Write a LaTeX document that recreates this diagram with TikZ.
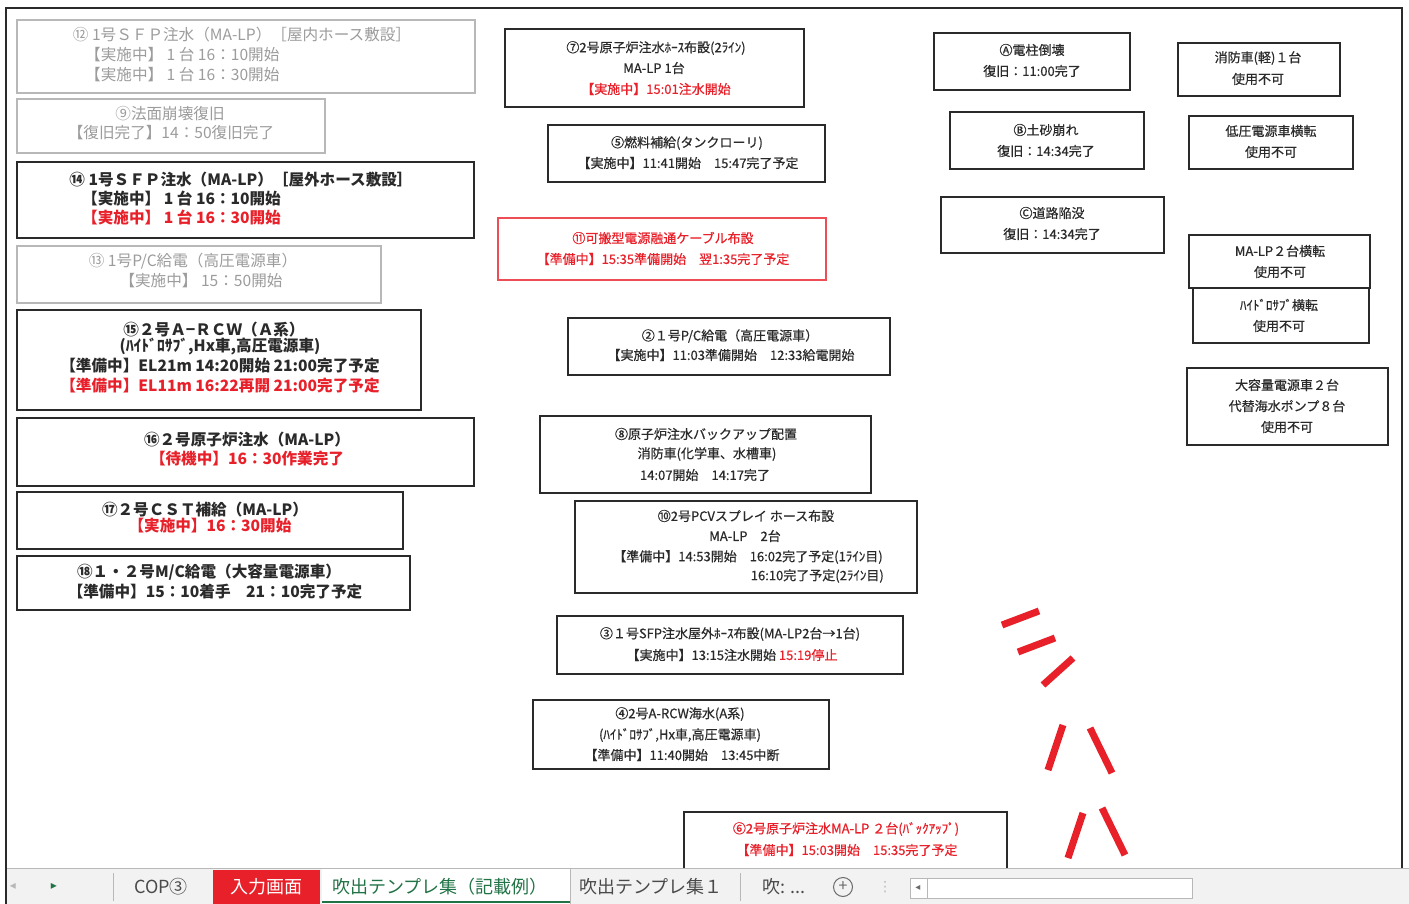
\documentclass[tikz,border=0pt]{standalone}
\usepackage{fontspec}
\setmainfont{Noto Sans CJK JP}
\newfontfamily\jpmid[FakeBold=0.5]{Noto Sans CJK JP}
\newfontfamily\symf{DejaVu Sans}
\definecolor{ink}{HTML}{2A2A2A}
\definecolor{gink}{HTML}{9C9C9C}
\definecolor{gline}{HTML}{B8B8B8}
\definecolor{rink}{HTML}{E8202A}
\definecolor{tabbg}{HTML}{F2F2F2}
\definecolor{xlgreen}{HTML}{217346}
\newcommand{\bx}[6]{\node[#6, anchor=north west, minimum width={(#4)-(#2)}, minimum height={(#5)-(#3)}] (#1) at (#2,#3) {};}
\newcommand{\rd}[1]{\textcolor{rink}{#1}}
\begin{document}
\begin{tikzpicture}[x=1pt,y=-1pt,
  box/.style={draw=ink, line width=1.8pt, inner sep=0pt, outer sep=0pt},
  gbox/.style={draw=gline, line width=1.3pt, inner sep=0pt, outer sep=0pt},
  rbox/.style={draw=rink!80, line width=1.8pt, inner sep=0pt, outer sep=0pt},
  L/.style={font=\fontsize{15.6}{15.6}\selectfont\bfseries, text=ink, inner sep=0pt},
  LG/.style={font=\fontsize{15.6}{15.6}\selectfont, text=gink, inner sep=0pt},
  M/.style={font=\jpmid\fontsize{13}{13}\selectfont, text=ink, inner sep=0pt},
  tab/.style={font=\fontsize{18}{18}\selectfont, text=ink!85, inner sep=0pt},
  redmark/.style={draw=rink, line width=7pt}]
\useasboundingbox (0,0) rectangle (1409,904);
\fill[white] (0,0) rectangle (1409,904);
% sheet frame
\draw[ink, line width=2pt] (6,904) -- (6,8) -- (1402,8) -- (1402,868);

% ---------- left column ----------
\bx{b1}{17}{20}{475}{93}{gbox}
\node[LG] (t1a) at (242,35) {⑫ 1号ＳＦＰ注水（MA-LP）［屋内ホース敷設］};
\node[LG, anchor=west] (t1b) at (85,55) {【実施中】 1 台 16：10開始};
\node[LG, anchor=west] (t1c) at (85,75) {【実施中】 1 台 16：30開始};

\bx{b2}{17}{99}{325}{153}{gbox}
\node[LG] (t2a) at (170,114) {⑨法面崩壊復旧};
\node[LG] (t2b) at (171,133) {【復旧完了】14：50復旧完了};

\bx{b3}{17}{162}{474}{238}{box}
\node[L] (t3a) at (241,180) {⑭ 1号ＳＦＰ注水（MA-LP）［屋外ホース敷設］};
\node[L, anchor=west] (t3b) at (82,199) {【実施中】 1 台 16：10開始};
\node[L, anchor=west, text=rink] (t3c) at (82,218) {【実施中】 1 台 16：30開始};

\bx{b4}{17}{246}{381}{303}{gbox}
\node[LG] (t4a) at (193,261) {⑬ 1号P/C給電（高圧電源車）};
\node[LG] (t4b) at (201,281) {【実施中】 15：50開始};

\bx{b5}{17}{310}{421}{410}{box}
\node[L] (t5a) at (214,330) {⑮２号Ａ−ＲＣＷ（Ａ系）};
\node[L] (t5b) at (220,347) {(ﾊｲﾄﾞﾛｻﾌﾞ,Hx車,高圧電源車)};
\node[L] (t5c) at (220,366) {【準備中】EL21m 14:20開始 21:00完了予定};
\node[L, text=rink] (t5d) at (220,386) {【準備中】EL11m 16:22再開 21:00完了予定};

\bx{b6}{17}{418}{474}{486}{box}
\node[L] (t6a) at (247,440) {⑯２号原子炉注水（MA-LP）};
\node[L, text=rink] (t6b) at (247,459) {【待機中】16：30作業完了};

\bx{b7}{17}{492}{403}{549}{box}
\node[L] (t7a) at (205,510) {⑰２号ＣＳＴ補給（MA-LP）};
\node[L, text=rink] (t7b) at (210,526) {【実施中】16：30開始};

\bx{b8}{17}{556}{410}{610}{box}
\node[L] (t8a) at (209,572) {⑱１・２号M/C給電（大容量電源車）};
\node[L] (t8b) at (215,592) {【準備中】15：10着手　21：10完了予定};

% ---------- middle column ----------
\bx{b9}{505}{29}{804}{107}{box}
\node[M] (t9a) at (656,48) {⑦2号原子炉注水ﾎｰｽ布設(2ﾗｲﾝ)};
\node[M] (t9b) at (654,68) {MA-LP 1台};
\node[M, text=rink] (t9c) at (656,89) {【実施中】15:01注水開始};

\bx{b10}{548}{125}{825}{182}{box}
\node[M] (t10a) at (687,143) {⑤燃料補給(タンクローリ)};
\node[M] (t10b) at (688,163) {【実施中】11:41開始　15:47完了予定};

\bx{b11}{498}{218}{826}{280}{rbox}
\node[M, text=rink] (t11a) at (663,238) {⑪可搬型電源融通ケーブル布設};
\node[M, text=rink] (t11b) at (663,259) {【準備中】15:35準備開始　翌1:35完了予定};

\bx{b12}{568}{318}{890}{375}{box}
\node[M] (t12a) at (730,336) {②１号P/C給電（高圧電源車）};
\node[M] (t12b) at (731,355) {【実施中】11:03準備開始　12:33給電開始};

\bx{b13}{540}{416}{871}{493}{box}
\node[M] (t13a) at (706,434) {⑧原子炉注水バックアップ配置};
\node[M] (t13b) at (707,454) {消防車(化学車、水槽車)};
\node[M] (t13c) at (705,475) {14:07開始　14:17完了};

\bx{b14}{575}{501}{917}{593}{box}
\node[M] (t14a) at (746,516) {⑩2号PCVスプレイ ホース布設};
\node[M] (t14b) at (745,536) {MA-LP　2台};
\node[M] (t14c) at (748,557) {【準備中】14:53開始　16:02完了予定(1ﾗｲﾝ目)};
\node[M, anchor=east] (t14d) at (884,576) {16:10完了予定(2ﾗｲﾝ目)};

\bx{b15}{557}{616}{903}{674}{box}
\node[M] (t15a) at (730,634) {③１号SFP注水屋外ﾎｰｽ布設(MA-LP2台→1台)};
\node[M] (t15b) at (732,655) {【実施中】13:15注水開始 \rd{15:19停止}};

\bx{b16}{533}{700}{829}{769}{box}
\node[M] (t16a) at (680,714) {④2号A-RCW海水(A系)};
\node[M] (t16b) at (680,735) {(ﾊｲﾄﾞﾛｻﾌﾞ,Hx車,高圧電源車)};
\node[M] (t16c) at (682,755) {【準備中】11:40開始　13:45中断};

\bx{b17}{684}{812}{1007}{880}{box}
\node[M, text=rink] (t17a) at (846,829) {⑥2号原子炉注水MA-LP ２台(ﾊﾞｯｸｱｯﾌﾟ)};
\node[M, text=rink] (t17b) at (847,850) {【準備中】15:03開始　15:35完了予定};

% ---------- right columns ----------
\bx{b18}{934}{33}{1130}{90}{box}
\node[M] (t18a) at (1032,50) {Ⓐ電柱倒壊};
\node[M] (t18b) at (1032,71) {復旧：11:00完了};

\bx{b19}{950}{112}{1144}{169}{box}
\node[M] (t19a) at (1046,130) {Ⓑ土砂崩れ};
\node[M] (t19b) at (1046,151) {復旧：14:34完了};

\bx{b20}{941}{197}{1164}{253}{box}
\node[M] (t20a) at (1052,213) {Ⓒ道路陥没};
\node[M] (t20b) at (1052,234) {復旧：14:34完了};

\bx{b21}{1178}{43}{1340}{96}{box}
\node[M] (t21a) at (1258,58) {消防車(軽)１台};
\node[M] (t21b) at (1258,79) {使用不可};

\bx{b22}{1189}{116}{1353}{169}{box}
\node[M] (t22a) at (1271,131) {低圧電源車横転};
\node[M] (t22b) at (1271,152) {使用不可};

\bx{b23}{1189}{235}{1370}{288}{box}
\node[M] (t23a) at (1280,251) {MA-LP２台横転};
\node[M] (t23b) at (1280,272) {使用不可};

\bx{b24}{1193}{288}{1369}{343}{box}
\node[M] (t24a) at (1279,305) {ﾊｲﾄﾞﾛｻﾌﾞ横転};
\node[M] (t24b) at (1279,326) {使用不可};

\bx{b25}{1187}{368}{1388}{445}{box}
\node[M] (t25a) at (1287,385) {大容量電源車２台};
\node[M] (t25b) at (1287,406) {代替海水ポンプ８台};
\node[M] (t25c) at (1287,427) {使用不可};

% ---------- red strokes ----------
\draw[redmark] (1002,625) -- (1039,611);
\draw[redmark] (1018,652) -- (1055,638);
\draw[redmark] (1043,685) -- (1073,658);
\draw[redmark] (1048,770) -- (1063,725);
\draw[redmark] (1090,728) -- (1112,773);
\draw[redmark] (1068,858) -- (1083,813);
\draw[redmark] (1102,808) -- (1125,855);

% ---------- sheet tab bar ----------
\fill[tabbg] (6,868) rectangle (1409,904);
\draw[gline, line width=1pt] (6,868) -- (1409,868);
\draw[ink, line width=2pt] (6,868) -- (6,904);
\node[text=gline, font=\symf\fontsize{12}{12}\selectfont, inner sep=0pt] (arl) at (13,886) {◂};
\node[text=xlgreen, font=\symf\fontsize{12}{12}\selectfont, inner sep=0pt] (arr) at (54,886) {▸};
\draw[gline] (113,873) -- (113,901);
\node[tab] (tcop) at (161,887) {COP③};
\fill[rink] (213,870) rectangle (320,904);
\node[tab, text=white] (tin) at (266,887) {入力画面};
\fill[white] (322,869) rectangle (570,904);
\draw[xlgreen, line width=2.5pt] (322,902) -- (570,902);
\draw[gline] (570,869) -- (570,904);
\node[tab, text=xlgreen] (tact) at (440,887) {吹出テンプレ集（記載例）};
\node[tab] (tt1) at (651,887) {吹出テンプレ集１};
\draw[gline] (740,873) -- (740,901);
\node[tab] (tt2) at (784,887) {吹: ...};
\node[draw=ink!70, circle, line width=1pt, minimum size=19pt, inner sep=0pt, font=\fontsize{16}{16}\selectfont, text=ink!70] (plus) at (843,887) {+};
\node[text=gline, font=\symf\fontsize{14}{14}\selectfont, inner sep=0pt] (dots) at (885,887) {⋮};
\node[draw=gline, fill=white, line width=1pt, anchor=north west, minimum width=282pt, minimum height=20pt, inner sep=0pt] (scroll) at (910,878) {};
\draw[gline, line width=1pt] (927,878) -- (927,898);
\node[text=ink!70, font=\symf\fontsize{10}{10}\selectfont, inner sep=0pt] (sarr) at (918,888) {◂};
\end{tikzpicture}
\end{document}
